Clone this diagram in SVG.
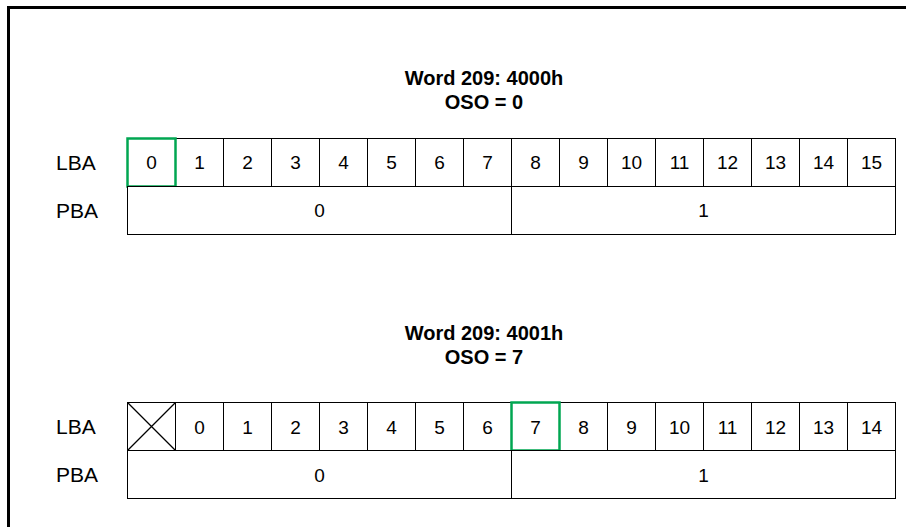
<svg xmlns="http://www.w3.org/2000/svg" width="906" height="527" viewBox="0 0 906 527">
<style>
.cell{fill:#fff;stroke:#000;stroke-width:1}
.sel{fill:none;stroke:#00a651;stroke-width:2.5}
.lbl{font-family:"Liberation Sans",Arial,sans-serif;font-size:19px;fill:#000;text-anchor:middle}
.side{font-family:"Liberation Sans",Arial,sans-serif;font-size:21px;fill:#000;text-anchor:start}
.title{font-family:"Liberation Sans",Arial,sans-serif;font-size:20px;font-weight:bold;fill:#000;text-anchor:middle}
.frame{fill:none;stroke:#000;stroke-width:3}
</style>
<rect width="906" height="527" fill="#fff"/>
<path class="frame" d="M8.5,527 V7.5 H906"/>

<g id="title1">
<text class="title" x="484" y="85">Word 209: 4000h</text>
<text class="title" x="484" y="109">OSO = 0</text>
</g>
<g id="lba1-label"><text class="side" x="56" y="169.5">LBA</text></g>
<g id="pba1-label"><text class="side" x="56" y="217.5">PBA</text></g>
<g id="lba1">
<rect class="cell" x="127.5" y="138.5" width="48" height="48"/><text class="lbl" x="151.5" y="169">0</text>
<rect class="cell" x="175.5" y="138.5" width="48" height="48"/><text class="lbl" x="199.5" y="169">1</text>
<rect class="cell" x="223.5" y="138.5" width="48" height="48"/><text class="lbl" x="247.5" y="169">2</text>
<rect class="cell" x="271.5" y="138.5" width="48" height="48"/><text class="lbl" x="295.5" y="169">3</text>
<rect class="cell" x="319.5" y="138.5" width="48" height="48"/><text class="lbl" x="343.5" y="169">4</text>
<rect class="cell" x="367.5" y="138.5" width="48" height="48"/><text class="lbl" x="391.5" y="169">5</text>
<rect class="cell" x="415.5" y="138.5" width="48" height="48"/><text class="lbl" x="439.5" y="169">6</text>
<rect class="cell" x="463.5" y="138.5" width="48" height="48"/><text class="lbl" x="487.5" y="169">7</text>
<rect class="cell" x="511.5" y="138.5" width="48" height="48"/><text class="lbl" x="535.5" y="169">8</text>
<rect class="cell" x="559.5" y="138.5" width="48" height="48"/><text class="lbl" x="583.5" y="169">9</text>
<rect class="cell" x="607.5" y="138.5" width="48" height="48"/><text class="lbl" x="631.5" y="169">10</text>
<rect class="cell" x="655.5" y="138.5" width="48" height="48"/><text class="lbl" x="679.5" y="169">11</text>
<rect class="cell" x="703.5" y="138.5" width="48" height="48"/><text class="lbl" x="727.5" y="169">12</text>
<rect class="cell" x="751.5" y="138.5" width="48" height="48"/><text class="lbl" x="775.5" y="169">13</text>
<rect class="cell" x="799.5" y="138.5" width="48" height="48"/><text class="lbl" x="823.5" y="169">14</text>
<rect class="cell" x="847.5" y="138.5" width="48" height="48"/><text class="lbl" x="871.5" y="169">15</text>
<rect class="sel" x="127.5" y="138.5" width="48" height="48"/>
</g>
<g id="pba1">
<rect class="cell" x="127.5" y="186.5" width="384" height="48"/><text class="lbl" x="319.5" y="217">0</text>
<rect class="cell" x="511.5" y="186.5" width="384" height="48"/><text class="lbl" x="703.5" y="217">1</text>
</g>

<g id="title2">
<text class="title" x="484" y="340">Word 209: 4001h</text>
<text class="title" x="484" y="364">OSO = 7</text>
</g>
<g id="lba2-label"><text class="side" x="56" y="434">LBA</text></g>
<g id="pba2-label"><text class="side" x="56" y="482">PBA</text></g>
<g id="lba2">
<rect class="cell" x="127.5" y="402.5" width="48" height="48"/>
<path d="M127.5,402.5 L175.5,450.5 M175.5,402.5 L127.5,450.5" stroke="#000" stroke-width="1.3" fill="none"/>
<rect class="cell" x="175.5" y="402.5" width="48" height="48"/><text class="lbl" x="199.5" y="433.5">0</text>
<rect class="cell" x="223.5" y="402.5" width="48" height="48"/><text class="lbl" x="247.5" y="433.5">1</text>
<rect class="cell" x="271.5" y="402.5" width="48" height="48"/><text class="lbl" x="295.5" y="433.5">2</text>
<rect class="cell" x="319.5" y="402.5" width="48" height="48"/><text class="lbl" x="343.5" y="433.5">3</text>
<rect class="cell" x="367.5" y="402.5" width="48" height="48"/><text class="lbl" x="391.5" y="433.5">4</text>
<rect class="cell" x="415.5" y="402.5" width="48" height="48"/><text class="lbl" x="439.5" y="433.5">5</text>
<rect class="cell" x="463.5" y="402.5" width="48" height="48"/><text class="lbl" x="487.5" y="433.5">6</text>
<rect class="cell" x="511.5" y="402.5" width="48" height="48"/><text class="lbl" x="535.5" y="433.5">7</text>
<rect class="cell" x="559.5" y="402.5" width="48" height="48"/><text class="lbl" x="583.5" y="433.5">8</text>
<rect class="cell" x="607.5" y="402.5" width="48" height="48"/><text class="lbl" x="631.5" y="433.5">9</text>
<rect class="cell" x="655.5" y="402.5" width="48" height="48"/><text class="lbl" x="679.5" y="433.5">10</text>
<rect class="cell" x="703.5" y="402.5" width="48" height="48"/><text class="lbl" x="727.5" y="433.5">11</text>
<rect class="cell" x="751.5" y="402.5" width="48" height="48"/><text class="lbl" x="775.5" y="433.5">12</text>
<rect class="cell" x="799.5" y="402.5" width="48" height="48"/><text class="lbl" x="823.5" y="433.5">13</text>
<rect class="cell" x="847.5" y="402.5" width="48" height="48"/><text class="lbl" x="871.5" y="433.5">14</text>
<rect class="sel" x="511.5" y="402.5" width="48" height="48"/>
</g>
<g id="pba2">
<rect class="cell" x="127.5" y="450.5" width="384" height="48"/><text class="lbl" x="319.5" y="481.5">0</text>
<rect class="cell" x="511.5" y="450.5" width="384" height="48"/><text class="lbl" x="703.5" y="481.5">1</text>
</g>
<g id="connectors"/>
</svg>
